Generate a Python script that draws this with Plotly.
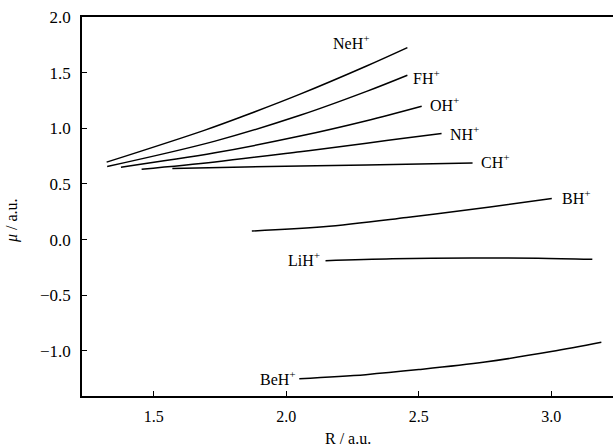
import plotly.graph_objects as go

# ---- data (R / a.u., mu / a.u.) ----
neh_r = [1.322, 1.693, 1.844, 2.052, 2.303, 2.457]
neh_mu = [0.696, 0.984, 1.115, 1.307, 1.560, 1.725]

fh_r = [1.324, 1.731, 2.052, 2.303, 2.457]
fh_mu = [0.657, 0.885, 1.117, 1.332, 1.477]

oh_r = [1.376, 1.731, 2.052, 2.303, 2.511]
oh_mu = [0.651, 0.780, 0.930, 1.068, 1.198]

nh_r = [1.454, 1.731, 2.052, 2.303, 2.429, 2.586]
nh_mu = [0.633, 0.698, 0.79, 0.866, 0.906, 0.953]

ch_r = [1.570, 1.844, 2.303, 2.703]
ch_mu = [0.639, 0.653, 0.671, 0.689]

bh_r = [1.870, 2.140, 2.454, 2.769, 3.002]
bh_mu = [0.077, 0.115, 0.199, 0.294, 0.370]

lih_r = [2.148, 2.4, 2.7, 2.95, 3.155]
lih_mu = [-0.19, -0.173, -0.165, -0.167, -0.177]

beh_r = [2.049, 2.3, 2.5, 2.75, 3.0, 3.189]
beh_mu = [-1.249, -1.213, -1.168, -1.10, -1.006, -0.922]

series_names = ["NeH", "FH", "OH", "NH", "CH", "BH", "LiH", "BeH"]
series_r = [neh_r, fh_r, oh_r, nh_r, ch_r, bh_r, lih_r, beh_r]
series_mu = [neh_mu, fh_mu, oh_mu, nh_mu, ch_mu, bh_mu, lih_mu, beh_mu]

# label anchor points (R, mu) and side
label_r = [2.322, 2.471, 2.534, 2.611, 2.727, 3.033, 2.134, 2.044]
label_mu = [1.779, 1.461, 1.216, 0.959, 0.705, 0.379, -0.172, -1.243]
label_side = ["right", "left", "left", "left", "left", "left", "right", "right"]

x_ticks = [1.5, 2.0, 2.5, 3.0]
x_ticktext = ["1.5", "2.0", "2.5", "3.0"]
y_ticks = [-1.0, -0.5, 0.0, 0.5, 1.0, 1.5, 2.0]
y_ticktext = ["\u22121.0", "\u22120.5", "0.0", "0.5", "1.0", "1.5", "2.0"]

FONT = "Liberation Serif, Times New Roman, serif"

fig = go.Figure()
for name, r, mu in zip(series_names, series_r, series_mu):
    fig.add_trace(go.Scatter(x=r, y=mu, mode="lines", name=name,
                             line=dict(color="black", width=1.5, shape="spline", smoothing=1.0),
                             showlegend=False, hoverinfo="skip"))

for name, r, mu, side in zip(series_names, label_r, label_mu, label_side):
    fig.add_annotation(x=r, y=mu, xref="x", yref="y", text=name + "<sup>+</sup>",
                       showarrow=False, xanchor=side, yanchor="middle",
                       font=dict(family=FONT, size=16, color="black"))

fig.add_annotation(x=0.5, y=-0.111, xref="paper", yref="paper", text="R / a.u.",
                   showarrow=False, xanchor="center", yanchor="middle",
                   font=dict(family=FONT, size=16, color="black"))
fig.add_annotation(x=-0.132, y=0.464, xref="paper", yref="paper", text="<i>\u03bc</i> / a.u.",
                   showarrow=False, xanchor="center", yanchor="middle", textangle=-90,
                   font=dict(family=FONT, size=16, color="black"))

fig.update_layout(
    width=613, height=448,
    margin=dict(l=82, r=0, t=17, b=52),
    paper_bgcolor="white", plot_bgcolor="white",
    font=dict(family=FONT, size=16, color="black"),
)
fig.update_xaxes(range=[1.229, 3.233], tickvals=x_ticks, ticktext=x_ticktext,
                 showgrid=False, zeroline=False, showline=True, linecolor="black",
                 linewidth=1.5, mirror=True, ticks="inside", ticklen=5, tickwidth=1.2,
                 tickcolor="black", ticklabelstandoff=5)
fig.update_yaxes(range=[-1.405, 2.0], tickvals=y_ticks, ticktext=y_ticktext,
                 showgrid=False, zeroline=False, showline=True, linecolor="black",
                 linewidth=1.5, ticks="inside", ticklen=5, tickwidth=1.2,
                 tickcolor="black", ticklabelstandoff=6,
                 tickfont=dict(family=FONT, size=17, color="black"))

fig.write_html("out.html", config={"displayModeBar": False},
               post_script="document.body.style.margin='0';document.body.style.padding='0';")
